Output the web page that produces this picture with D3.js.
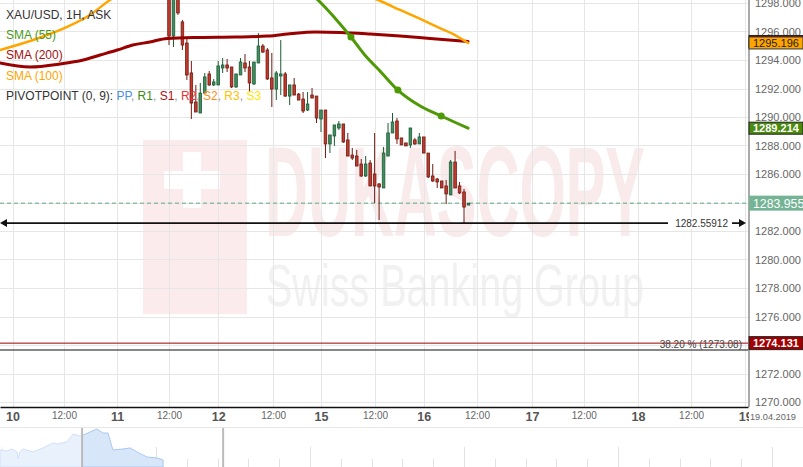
<!DOCTYPE html>
<html>
<head>
<meta charset="utf-8">
<script src="https://d3js.org/d3.v7.min.js"></script>
<style>
body { margin: 0; background: #fff; }
svg { font-family: "Liberation Sans", Arial, sans-serif; display: block; }
</style>
</head>
<body>
<svg id="chart" width="803" height="467"></svg>
<script>
// ---- data (XAU/USD 1H, ask) ----
var opens = [1299.47,1295.68,1298.49,1296.67,1295.19,1293.09,1291.05,1290.28,1291.68,1293.02,
  1292.25,1292.25,1293.44,1293.65,1293.51,1292.11,1292.95,1293.79,1293.51,1292.32,
  1293.79,1294.98,1294.70,1292.74,1291.96,1292.88,1293.02,1291.47,1292.25,1291.61,
  1291.26,1290.49,1291.54,1291.47,1289.86,1290.49,1288.11,1288.67,1289.23,1289.51,
  1288.39,1287.33,1287.26,1286.70,1285.86,1286.77,1286.00,1285.30,1285.02,1287.26,
  1288.88,1289.72,1288.53,1288.18,1288.04,1288.39,1288.11,1288.60,1287.47,1285.86,
  1285.65,1285.51,1285.16,1284.53,1286.84,1285.16,1284.74,1283.82];
var highs = [1299.96,1299.05,1298.91,1296.81,1295.47,1293.93,1292.25,1292.39,1293.09,1293.23,
  1292.67,1293.93,1294.14,1294.07,1293.51,1293.02,1294.14,1294.42,1293.93,1293.86,
  1295.89,1295.12,1294.84,1294.49,1293.23,1295.40,1293.16,1292.25,1292.74,1291.68,
  1291.75,1291.75,1292.03,1291.47,1290.49,1290.49,1288.74,1289.44,1289.72,1289.51,
  1288.88,1287.83,1287.69,1287.05,1287.26,1286.98,1288.88,1285.37,1287.90,1289.58,
  1290.28,1289.93,1288.53,1288.18,1289.23,1288.53,1288.88,1288.60,1287.47,1286.70,
  1285.72,1285.51,1285.58,1286.98,1287.62,1285.44,1284.95,1283.96];
var lows = [1295.05,1294.91,1297.16,1294.70,1292.60,1289.86,1290.35,1290.28,1291.68,1292.18,
  1292.18,1292.25,1293.09,1293.16,1292.03,1292.03,1292.95,1293.16,1291.75,1292.25,
  1293.79,1294.49,1292.60,1290.70,1291.19,1291.54,1291.40,1290.84,1291.54,1291.19,
  1290.28,1290.42,1291.33,1289.58,1288.95,1287.12,1287.47,1287.97,1289.09,1288.18,
  1287.26,1286.98,1286.56,1285.79,1285.79,1285.16,1283.96,1282.77,1285.02,1287.26,
  1288.88,1288.11,1288.04,1287.97,1287.83,1288.04,1288.11,1287.47,1285.72,1285.44,
  1285.02,1285.02,1283.89,1284.53,1285.02,1284.60,1282.56,1283.82];
var closes = [1295.68,1298.63,1297.30,1295.05,1292.95,1290.98,1290.35,1291.68,1292.81,1292.25,
  1292.46,1293.58,1293.65,1293.44,1292.11,1293.02,1293.86,1293.44,1292.39,1293.86,
  1294.98,1294.56,1292.67,1291.96,1293.09,1293.02,1291.47,1292.25,1291.54,1291.19,
  1290.42,1290.91,1291.33,1289.93,1290.49,1288.11,1288.74,1289.44,1289.51,1288.25,
  1287.26,1287.12,1286.56,1285.86,1286.70,1285.16,1285.16,1285.09,1287.47,1288.88,
  1289.65,1288.46,1288.04,1287.97,1289.23,1288.11,1288.60,1287.47,1285.79,1285.51,
  1285.44,1285.02,1284.60,1286.84,1285.02,1284.67,1283.68,1283.955];

// moving averages (bar slot, value)
var sma55Slots = [18.1, 29.3, 33.3, 37.1, 40.7, 43.8, 47.2, 51.2, 56.2, 60.9, 66.9];
var sma55Values = [1302.4, 1299.19, 1298.21, 1296.95, 1295.61, 1294.35, 1293.23, 1291.89, 1290.77, 1290.07, 1289.214];
var sma55Markers = [4, 7, 9];
var sma200Slots = [-37.8,-31.1,-24.4,-19.2,-15.4,-11.6,-8.1,-4.3,-0.4,6.9,14.8,22.1,27.5,32.7,38.3,45.0,51.7,58.4,66.9];
var sma200Values = [1293.79,1293.51,1293.72,1294.00,1294.35,1294.70,1295.05,1295.26,1295.51,1295.58,1295.61,1295.68,1295.86,1295.96,1295.93,1295.82,1295.68,1295.51,1295.30];
var sma100Slots = [-37.8,-30.4,-22.8,-17.7,-13.2,-8.7,6.9,24.8,43.5,47.8,51.7,56.2,60.6,64.0,66.9];
var sma100Values = [1294.70,1295.40,1296.32,1297.16,1298.21,1299.05,1301.0,1301.0,1298.63,1298.07,1297.51,1296.88,1296.24,1295.75,1295.196];

// levels
var lastPrice = 1283.955;
var lowLevel = 1282.55912;
var fibRed = 1274.131;
var fibLine = 1273.65;

// axes
var tickSlots = [-35, -23.5, -11.6, 0, 11, 23.3, 34, 46.1, 57, 68.9, 81.2, 92.8, 104.9, 116.8, 128.9];
var tickLabels = ["10","12:00","11","12:00","12","12:00","15","12:00","16","12:00","17","12:00","18","12:00","19"];
var priceTicks = d3.range(1270, 1299, 2);
var hiddenTicks = [1284, 1274]; // covered by the value boxes

// navigator
var navPos = [-0.065,0.16,0.32,0.49,0.52,0.58,0.68,1.01,1.33,1.66,1.79,2.11,2.31,2.53,2.63,2.86,3.08,3.28,3.44,3.60,3.93,4.16,4.38,4.71,5.03,5.23];
var navValues = [1301.3,1300.0,1302.5,1298.8,1290.0,1298.8,1302.5,1298.8,1303.8,1310.0,1308.8,1311.3,1321.3,1318.8,1320.0,1323.8,1327.5,1322.5,1322.5,1301.3,1302.5,1303.8,1298.8,1292.5,1291.3,1288.8];
var navWindow = [2.6, 7.18];

// ---- layout ----
var svg = d3.select("#chart");
var plotW = 748, plotH = 407;
var upFill = "#3f8f60", upLine = "#1d5a35", downFill = "#c23a2c", downLine = "#6e1a12";

var xScale = d3.scaleLinear().domain([-37.81, 129.53]).range([0, plotW]);
var yScale = d3.scaleLinear().domain([1270, 1298]).range([402, 3]);

svg.append("defs").append("clipPath").attr("id", "plotClip")
  .append("rect").attr("x", 0).attr("y", 0).attr("width", plotW).attr("height", plotH);

// watermark
var wm = svg.append("g");
wm.append("rect").attr("x", 143).attr("y", 140).attr("width", 104).attr("height", 174).attr("fill", "#fcebed");
wm.append("rect").attr("x", 183).attr("y", 152).attr("width", 18).attr("height", 56).attr("fill", "#fff");
wm.append("rect").attr("x", 164).attr("y", 171).attr("width", 56).attr("height", 18).attr("fill", "#fff");
wm.append("text").attr("x", 265).attr("y", 236).text("DUKASCOPY")
  .attr("font-size", 128).attr("font-weight", "bold").attr("textLength", 380)
  .attr("lengthAdjust", "spacingAndGlyphs").attr("fill", "#f9eaeb");
wm.append("text").attr("x", 266).attr("y", 306).text("Swiss Banking Group")
  .attr("font-size", 60).attr("textLength", 378)
  .attr("lengthAdjust", "spacingAndGlyphs").attr("fill", "#f1f1f1");

// grid
var grid = svg.append("g");
grid.selectAll("line.h").data(priceTicks).join("line")
  .attr("x1", 0).attr("x2", plotW)
  .attr("y1", d => Math.round(yScale(d)) + 0.5).attr("y2", d => Math.round(yScale(d)) + 0.5)
  .attr("stroke", "#e6e6e6");
grid.selectAll("line.v").data(tickSlots).join("line")
  .attr("x1", d => Math.round(xScale(d)) + 0.5).attr("x2", d => Math.round(xScale(d)) + 0.5)
  .attr("y1", 0).attr("y2", plotH)
  .attr("stroke", "#e6e6e6");

var plot = svg.append("g").attr("clip-path", "url(#plotClip)");

// price levels
plot.append("line").attr("x1", 0).attr("x2", plotW)
  .attr("y1", yScale(lastPrice)).attr("y2", yScale(lastPrice))
  .attr("stroke", "#5fa882").attr("stroke-dasharray", "4,3");
plot.append("line").attr("x1", 0).attr("x2", plotW)
  .attr("y1", yScale(fibRed)).attr("y2", yScale(fibRed))
  .attr("stroke", "#a00000");
plot.append("line").attr("x1", 0).attr("x2", plotW)
  .attr("y1", yScale(fibLine)).attr("y2", yScale(fibLine))
  .attr("stroke", "#111").attr("stroke-width", 1.2);
plot.append("text").attr("x", 742).attr("y", yScale(fibLine) - 2)
  .attr("text-anchor", "end").attr("font-size", 10).attr("fill", "#444")
  .text("38.20 % (1273.08)");

// candles
var bars = opens.map((o, i) => ({ i: i, o: o, h: highs[i], l: lows[i], c: closes[i] }));
var cg = plot.selectAll("g.candle").data(bars).join("g").attr("class", "candle");
cg.append("line")
  .attr("x1", d => xScale(d.i)).attr("x2", d => xScale(d.i))
  .attr("y1", d => yScale(d.h)).attr("y2", d => yScale(d.l))
  .attr("stroke", d => d.c >= d.o ? upLine : downLine).attr("stroke-width", 1);
cg.append("rect")
  .attr("x", d => xScale(d.i) - 1.3).attr("width", 2.6)
  .attr("y", d => yScale(Math.max(d.o, d.c)))
  .attr("height", d => Math.max(1, Math.abs(yScale(d.o) - yScale(d.c))))
  .attr("fill", d => d.c >= d.o ? upFill : downFill)
  .attr("stroke", d => d.c >= d.o ? upLine : downLine).attr("stroke-width", 0.8);

// moving averages
function smaLine(slots, values, color, w) {
  var pts = slots.map((s, i) => [xScale(s), yScale(values[i])]);
  plot.append("path").attr("d", d3.line().curve(d3.curveMonotoneX)(pts))
    .attr("fill", "none").attr("stroke", color).attr("stroke-width", w)
    .attr("stroke-linejoin", "round").attr("stroke-linecap", "round");
}
smaLine(sma200Slots, sma200Values, "#990000", 3);
smaLine(sma100Slots, sma100Values, "#ffa500", 2.5);
smaLine(sma55Slots, sma55Values, "#4e9a06", 3);
plot.selectAll("circle.mk").data(sma55Markers).join("circle")
  .attr("cx", d => xScale(sma55Slots[d])).attr("cy", d => yScale(sma55Values[d]))
  .attr("r", 3.5).attr("fill", "#4e9a06");

// low level with arrows
var yl = yScale(lowLevel);
plot.append("line").attr("x1", 2).attr("x2", plotW - 4).attr("y1", yl).attr("y2", yl)
  .attr("stroke", "#111").attr("stroke-width", 1.8);
plot.append("path").attr("d", "M0," + yl + "l7,-4v8z").attr("fill", "#111");
plot.append("path").attr("d", "M" + (plotW - 2) + "," + yl + "l-7,-4v8z").attr("fill", "#111");
plot.append("rect").attr("x", 668).attr("y", yl - 6).attr("width", 64).attr("height", 12).attr("fill", "#fff");
plot.append("text").attr("x", 728).attr("y", yl + 4).attr("text-anchor", "end")
  .attr("font-size", 10).attr("fill", "#333").text("1282.55912");

// y axis
var yAxis = svg.append("g").attr("transform", "translate(" + plotW + ",0)")
  .call(d3.axisRight(yScale).tickValues(priceTicks.filter(d => hiddenTicks.indexOf(d) < 0))
    .tickFormat(d3.format(".3f")).tickSize(0).tickPadding(7));
yAxis.select(".domain").remove();
yAxis.selectAll("text").attr("font-size", 11).attr("fill", "#666").attr("font-family", "Liberation Sans, Arial, sans-serif");
svg.append("line").attr("x1", plotW + 1).attr("x2", plotW + 1).attr("y1", 0).attr("y2", plotH)
  .attr("stroke", "#aaa").attr("stroke-width", 2);

// right value labels
function valueBox(v, fill, textFill, stroke, fs, h, bold) {
  var y = yScale(v);
  svg.append("rect").attr("x", plotW + 1).attr("y", y - h / 2).attr("width", 54).attr("height", h)
    .attr("fill", fill).attr("stroke", stroke);
  svg.append("text").attr("x", plotW + 5).attr("y", y + fs * 0.36).attr("font-size", fs)
    .attr("font-weight", bold ? "bold" : "normal").attr("fill", textFill).text(d3.format(".3f")(v));
}
valueBox(sma200Values[sma200Values.length - 1], "#990000", "#fff", "#222", 11, 12, false);
valueBox(sma100Values[sma100Values.length - 1], "#ffa500", "#222", "#333", 11, 12, false);
valueBox(sma55Values[sma55Values.length - 1], "#4a8a0c", "#fff", "#222", 11, 12, true);
valueBox(lastPrice, "#74b394", "#fff", "none", 12.3, 15, false);
valueBox(fibRed, "#a00000", "#fff", "#222", 11, 13, true);

// x axis
var xAxis = svg.append("g").attr("transform", "translate(0," + plotH + ")")
  .call(d3.axisBottom(xScale).tickValues(tickSlots).tickFormat((d, i) => tickLabels[i]).tickSize(0).tickPadding(5));
xAxis.select(".domain").attr("stroke", "#111").attr("stroke-width", 1.5);
xAxis.selectAll("text").attr("font-family", "Liberation Sans, Arial, sans-serif")
  .attr("font-size", (d, i) => tickLabels[i].indexOf(":") < 0 ? 12.5 : 10)
  .attr("font-weight", (d, i) => tickLabels[i].indexOf(":") < 0 ? "bold" : "normal")
  .attr("fill", (d, i) => tickLabels[i].indexOf(":") < 0 ? "#555" : "#666");
svg.append("rect").attr("x", 749).attr("y", 410).attr("width", 54).attr("height", 14).attr("fill", "#fff");
svg.append("text").attr("x", 750).attr("y", 420).attr("font-size", 9.2).attr("fill", "#666").text("19.04.2019");
svg.append("line").attr("x1", 0).attr("x2", 803).attr("y1", 427.5).attr("y2", 427.5).attr("stroke", "#e6e6e6");

// navigator
var navX = d3.scaleLinear().domain([0, 26]).range([2, 802.8]);
var navY = d3.scaleLinear().domain([1280, 1330]).range([467, 427]);
var nav = svg.append("g");
nav.selectAll("line.t").data(d3.range(0, 27)).join("line")
  .attr("x1", d => Math.round(navX(d)) + 0.5).attr("x2", d => Math.round(navX(d)) + 0.5)
  .attr("y1", d => d % 5 === 0 ? 447 : 459).attr("y2", 467).attr("stroke", "#e2e2e2");
var navPts = navPos.map((p, i) => [p, navValues[i]]);
nav.append("path").datum(navPts)
  .attr("d", d3.area().x(d => navX(d[0])).y0(467).y1(d => navY(d[1])))
  .attr("fill", "#d8e6fa").attr("stroke", "#a9c8f2").attr("stroke-width", 1);
nav.append("rect").attr("x", 0).attr("y", 428).attr("width", navX(navWindow[0])).attr("height", 39)
  .attr("fill", "#fff").attr("opacity", 0.45);
nav.selectAll("line.hd").data(navWindow).join("line")
  .attr("x1", d => navX(d)).attr("x2", d => navX(d)).attr("y1", 428).attr("y2", 467)
  .attr("stroke", "#bbb").attr("stroke-width", 2);

// legend
var lg = svg.append("g").attr("font-size", 12);
lg.append("text").attr("x", 6).attr("y", 19).attr("fill", "#333").text("XAU/USD, 1H, ASK");
lg.append("text").attr("x", 6).attr("y", 39).attr("fill", "#4a9a1a").text("SMA (55)");
lg.append("text").attr("x", 6).attr("y", 59).attr("fill", "#a01010").text("SMA (200)");
lg.append("text").attr("x", 6).attr("y", 80).attr("fill", "#ffa500").text("SMA (100)");
var pivNames = ["PP", "R1", "S1", "R2", "S2", "R3", "S3"];
var pivColors = ["#4a90e2", "#3a8a1a", "#aa1111", "#ee3333", "#ff8c1a", "#ffc000", "#ffe600"];
var pv = lg.append("text").attr("x", 6).attr("y", 100).attr("fill", "#333");
pv.append("tspan").text("PIVOTPOINT (0, 9): ");
pivNames.forEach(function (n, i) {
  pv.append("tspan").attr("fill", pivColors[i]).text(n);
  if (i < pivNames.length - 1) pv.append("tspan").attr("fill", "#999").text(", ");
});
</script>
</body>
</html>
